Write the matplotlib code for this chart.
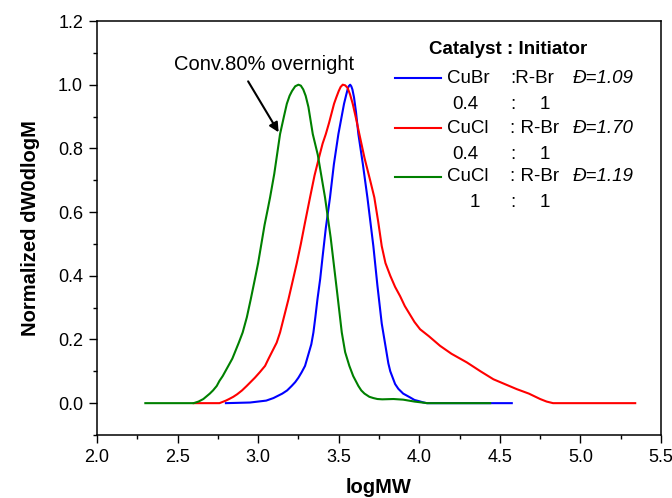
import matplotlib
matplotlib.use("Agg")
import matplotlib.pyplot as plt
from matplotlib.ticker import MultipleLocator, FormatStrFormatter

plt.rcParams['font.family'] = ['Liberation Sans', 'DejaVu Sans']

# GPC traces (logMW, normalized dW/dlogM)
blue_x = [2.80, 2.95, 3.00, 3.05, 3.095, 3.15, 3.18, 3.208, 3.23, 3.25, 3.27, 3.291, 3.31,
          3.33, 3.343, 3.355, 3.368, 3.385, 3.40, 3.42, 3.446, 3.47, 3.498, 3.533, 3.545,
          3.555, 3.562, 3.571, 3.578, 3.585, 3.595, 3.607, 3.622, 3.65, 3.678, 3.715, 3.74,
          3.767, 3.79, 3.808, 3.82, 3.835, 3.85, 3.87, 3.90, 3.943, 3.97, 4.00, 4.02, 4.046, 4.574]
blue_y = [0.000, 0.002, 0.005, 0.008, 0.016, 0.030, 0.040, 0.054, 0.066, 0.080, 0.097, 0.117, 0.150,
          0.185, 0.222, 0.270, 0.326, 0.390, 0.460, 0.550, 0.646, 0.750, 0.845, 0.940, 0.965,
          0.985, 0.995, 1.000, 0.995, 0.985, 0.960, 0.915, 0.845, 0.750, 0.646, 0.493, 0.370,
          0.250, 0.180, 0.125, 0.100, 0.080, 0.060, 0.045, 0.030, 0.018, 0.010, 0.006, 0.003, 0.000, 0.000]

red_x = [2.60, 2.76, 2.78, 2.80, 2.82, 2.846, 2.87, 2.90, 2.929, 2.98, 3.01, 3.043, 3.065,
         3.09, 3.115, 3.136, 3.16, 3.188, 3.215, 3.24, 3.265, 3.29, 3.322, 3.35, 3.38, 3.40,
         3.42, 3.44, 3.471, 3.485, 3.50, 3.512, 3.525, 3.54, 3.555, 3.57, 3.587, 3.607, 3.628,
         3.66, 3.695, 3.721, 3.745, 3.767, 3.79, 3.82, 3.85, 3.881, 3.91, 3.94, 3.97, 4.005,
         4.06, 4.129, 4.20, 4.295, 4.38, 4.46, 4.53, 4.605, 4.68, 4.75, 4.79, 4.83, 5.34]
red_y = [0.000, 0.000, 0.004, 0.008, 0.013, 0.020, 0.028, 0.040, 0.054, 0.080, 0.097, 0.117, 0.140,
         0.165, 0.190, 0.222, 0.270, 0.326, 0.385, 0.440, 0.500, 0.565, 0.646, 0.715, 0.776, 0.815,
         0.845, 0.880, 0.940, 0.960, 0.980, 0.993, 1.000, 0.998, 0.990, 0.970, 0.940, 0.895, 0.845,
         0.770, 0.700, 0.646, 0.570, 0.493, 0.440, 0.400, 0.365, 0.336, 0.305, 0.280, 0.255, 0.232,
         0.210, 0.180, 0.155, 0.128, 0.100, 0.075, 0.060, 0.044, 0.030, 0.013, 0.005, 0.000, 0.000]

green_x = [2.30, 2.60, 2.63, 2.66, 2.70, 2.72, 2.743, 2.76, 2.78, 2.815, 2.84, 2.86, 2.88,
           2.904, 2.93, 2.954, 2.98, 3.00, 3.02, 3.04, 3.06, 3.074, 3.10, 3.136, 3.16, 3.178,
           3.195, 3.21, 3.23, 3.25, 3.265, 3.28, 3.295, 3.312, 3.339, 3.37, 3.415, 3.45, 3.492,
           3.519, 3.54, 3.566, 3.59, 3.622, 3.64, 3.66, 3.69, 3.715, 3.74, 3.77, 3.84, 3.90,
           3.97, 4.05, 4.44]
green_y = [0.000, 0.000, 0.005, 0.013, 0.030, 0.040, 0.054, 0.070, 0.085, 0.117, 0.140, 0.165, 0.190,
           0.222, 0.270, 0.326, 0.390, 0.440, 0.500, 0.560, 0.610, 0.646, 0.720, 0.845, 0.900, 0.940,
           0.965, 0.980, 0.995, 1.000, 0.997, 0.985, 0.965, 0.930, 0.845, 0.780, 0.646, 0.520, 0.340,
           0.222, 0.160, 0.117, 0.085, 0.054, 0.040, 0.030, 0.020, 0.016, 0.013, 0.012, 0.013, 0.011,
           0.005, 0.000, 0.000]

fig = plt.figure(figsize=(6.72, 4.98), dpi=100)
ax = fig.add_axes([97/672, 63/498, 564/672, 414/498])

ax.plot(blue_x, blue_y, color='blue', lw=1.5)
ax.plot(red_x, red_y, color='red', lw=1.5)
ax.plot(green_x, green_y, color='green', lw=1.5)

ax.set_xlim(2.0, 5.5)
ax.set_ylim(-0.1, 1.2)
ax.xaxis.set_major_locator(MultipleLocator(0.5))
ax.xaxis.set_minor_locator(MultipleLocator(0.25))
ax.yaxis.set_major_locator(MultipleLocator(0.2))
ax.yaxis.set_minor_locator(MultipleLocator(0.1))
ax.xaxis.set_major_formatter(FormatStrFormatter('%.1f'))
ax.yaxis.set_major_formatter(FormatStrFormatter('%.1f'))
ax.tick_params(which='major', direction='out', length=6, width=1, labelsize=13, pad=4)
ax.tick_params(which='minor', direction='out', length=3, width=1)
for s in ax.spines.values():
    s.set_linewidth(1.1)

ax.set_xlabel('logMW', fontsize=14.5, fontweight='bold', labelpad=9)
ax.set_ylabel('Normalized dW0dlogM', fontsize=14.5, fontweight='bold', labelpad=13)

# annotation
ax.text(3.037, 1.063, 'Conv.80% overnight', fontsize=14.5, ha='center', va='center')
ax.annotate('', xy=(3.136, 0.843), xytext=(2.929, 1.018),
            arrowprops=dict(arrowstyle='-|>', color='black', lw=1.5, mutation_scale=14))

# hand-made legend (axes fraction)
T = ax.transAxes
fs = 13.5
ax.text(0.7287, 0.930, 'Catalyst : Initiator', transform=T, fontsize=fs,
        fontweight='bold', ha='center', va='center')
rows = [
    ('blue', 'CuBr', ':R-Br', '1.09', '0.4', 0.8623, 0.7995),
    ('red', 'CuCl', ': R-Br', '1.70', '0.4', 0.7415, 0.6787),
    ('green', 'CuCl', ': R-Br', '1.19', '1', 0.6232, 0.5604),
]
for col, cat, ini, disp, ratio, y1, y2 in rows:
    ax.plot([0.5284, 0.6099], [y1, y1], color=col, lw=1.5, transform=T)
    ax.text(0.6206, y1, cat, transform=T, fontsize=fs, va='center')
    ax.text(0.7323, y1, ini, transform=T, fontsize=fs, va='center')
    ax.text(0.844, y1, 'Đ=' + disp, transform=T, fontsize=fs, va='center', style='italic')
    rx = 0.6294 if ratio == '0.4' else 0.6613
    ax.text(rx, y2, ratio, transform=T, fontsize=fs, va='center')
    ax.text(0.7323, y2, ':', transform=T, fontsize=fs, va='center')
    ax.text(0.7855, y2, '1', transform=T, fontsize=fs, va='center')

fig.savefig('out.png', dpi=100)
